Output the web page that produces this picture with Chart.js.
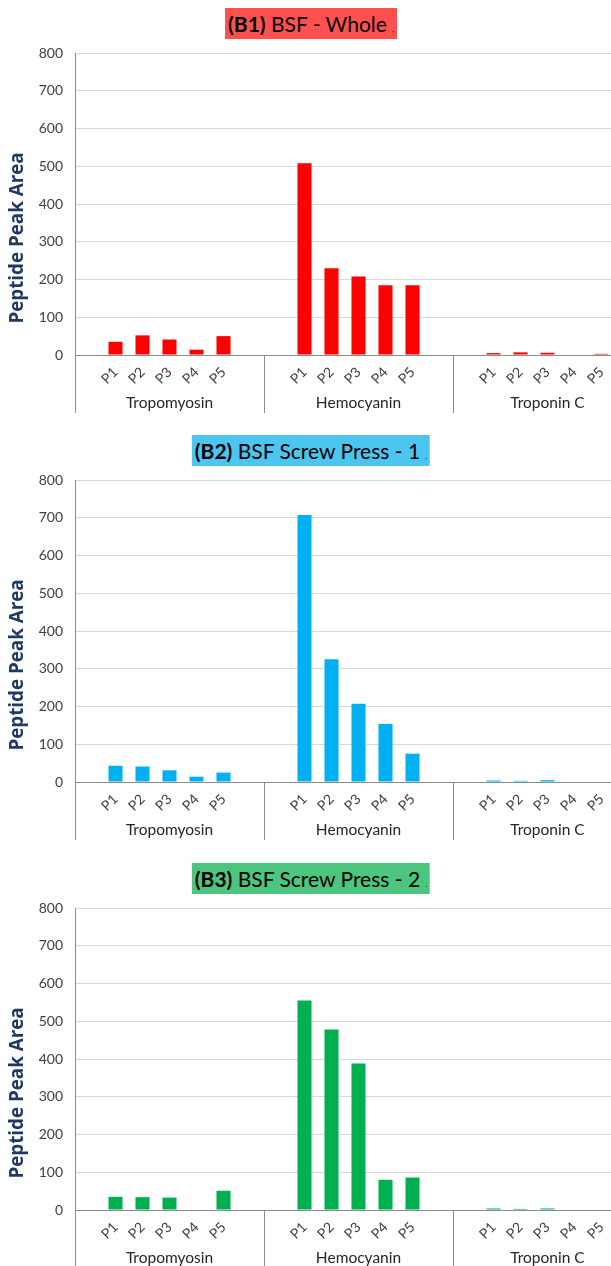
<!DOCTYPE html>
<html>
<head>
<meta charset="utf-8">
<script src="https://cdn.jsdelivr.net/npm/chart.js@4.4.0/dist/chart.umd.min.js"></script>
<style>
html, body { margin: 0; padding: 0; background: #fff; overflow: hidden; width: 611px; height: 1266px; }
.panel { position: absolute; left: 0; width: 660px; height: 427px; }
.panel canvas { position: absolute; left: 0; top: 0; }
.ttl { position: absolute; top: 8px; left: 311px; transform: translateX(-50%); height: 31px; line-height: 31px;
       padding: 0 3px; font-family: Lato, sans-serif; font-size: 21px; color: #000; white-space: nowrap; }
.ttl .dot { font-size: 7px; }
</style>
</head>
<body>
<div class="panel" style="top:0px">
  <canvas id="c1" width="660" height="427"></canvas>
  <div class="ttl" style="background:#ff5050"><b>(B1)</b> BSF - Whole <span class="dot">.</span></div>
</div>
<div class="panel" style="top:427px">
  <canvas id="c2" width="660" height="427"></canvas>
  <div class="ttl" style="background:#4cc5f0"><b>(B2)</b> BSF Screw Press - 1 <span class="dot">.</span></div>
</div>
<div class="panel" style="top:855px">
  <canvas id="c3" width="660" height="427"></canvas>
  <div class="ttl" style="background:#4cc57f"><b>(B3)</b> BSF Screw Press - 2 <span class="dot">.</span></div>
</div>
<script>
// groups and peptides on the x axis
var proteins = ['Tropomyosin', 'Hemocyanin', 'Troponin C'];
var peptides = ['P1', 'P2', 'P3', 'P4', 'P5'];
var yTitle = 'Peptide Peak Area';

// peak areas, 5 peptides per protein
var bsfWhole = [35, 52, 41, 14, 50,   508, 230, 208, 185, 185,   5, 7, 6, 0, 3];
var bsfPress1 = [43, 41, 31, 14, 25,   707, 325, 207, 154, 75,   4, 3, 5, 0, 0];
var bsfPress2 = [35, 34, 33, 0, 51,   555, 478, 388, 80, 86,   4, 3, 4, 0, 0];

var yMax = 800;
var yStep = 100;

// every group gets an empty slot on each side, like the original
function slotLabels() {
    var out = [];
    proteins.forEach(function () {
        out.push('');
        peptides.forEach(function (p) { out.push(p); });
        out.push('');
    });
    return out;
}

function slotValues(vals) {
    var out = [];
    proteins.forEach(function (g, gi) {
        out.push(null);
        peptides.forEach(function (p, pi) { out.push(vals[gi * peptides.length + pi]); });
        out.push(null);
    });
    return out;
}

var groupAxis = {
    id: 'groupAxis',
    afterDraw: function (chart) {
        var xs = chart.scales.x, ys = chart.scales.y, ctx = chart.ctx;
        var n = peptides.length + 2;
        var y0 = ys.getPixelForValue(0);
        ctx.save();
        ctx.strokeStyle = '#8c8c8c';
        ctx.lineWidth = 1;
        for (var g = 0; g <= proteins.length; g++) {
            var xb = Math.round(xs.getPixelForValue(g * n - 0.5)) + 0.5;
            ctx.beginPath();
            ctx.moveTo(xb, y0);
            ctx.lineTo(xb, y0 + 58);
            ctx.stroke();
        }
        ctx.fillStyle = '#262626';
        ctx.font = '15.5px Lato';
        ctx.textAlign = 'center';
        ctx.textBaseline = 'middle';
        proteins.forEach(function (p, g) {
            ctx.fillText(p, xs.getPixelForValue(g * n + (n - 1) / 2), y0 + 48);
        });
        // axis title sits lower than the plot centre, as in Excel
        ctx.translate(18, y0 - 117);
        ctx.rotate(-Math.PI / 2);
        ctx.fillStyle = '#203864';
        ctx.font = 'bold 18.8px "Open Sans"';
        ctx.fillText(yTitle, 0, 0);
        ctx.restore();
    }
};

function pintar(canvasId, valores, color) {
    var ctx = document.getElementById(canvasId).getContext('2d');
    new Chart(ctx, {
        type: 'bar',
        data: {
            labels: slotLabels(),
            datasets: [{
                data: slotValues(valores),
                backgroundColor: color,
                borderWidth: 0,
                categoryPercentage: 1,
                barPercentage: 0.52
            }]
        },
        options: {
            responsive: false,
            animation: false,
            layout: { padding: { top: 53, right: 18, left: 0, bottom: 0 } },
            plugins: { legend: { display: false }, tooltip: { enabled: false } },
            scales: {
                x: {
                    grid: { display: false },
                    border: { display: true, color: '#8c8c8c', width: 1 },
                    ticks: {
                        autoSkip: false, minRotation: 45, maxRotation: 45, padding: 1,
                        color: '#404040', font: { family: 'Lato', size: 14 }
                    },
                    afterFit: function (s) { s.height = 72; }
                },
                y: {
                    min: 0, max: yMax,
                    grid: { color: '#d9d9d9', drawTicks: false },
                    border: { display: true, color: '#8c8c8c', width: 1 },
                    ticks: { stepSize: yStep, padding: 12, color: '#404040', font: { family: 'Lato', size: 14 } },
                    afterFit: function (s) { s.width = 75; }
                }
            }
        },
        plugins: [groupAxis]
    });
}

pintar('c1', bsfWhole, '#ff0000');
pintar('c2', bsfPress1, '#00b0f0');
pintar('c3', bsfPress2, '#00b050');
</script>
</body>
</html>
